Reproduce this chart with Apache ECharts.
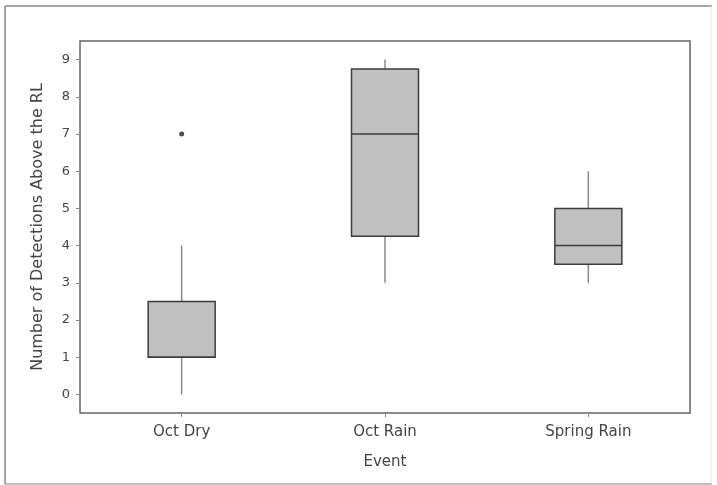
<!DOCTYPE html>
<html>
<head>
<meta charset="utf-8">
<script src="https://cdn.jsdelivr.net/npm/echarts@6/dist/echarts.min.js"></script>
<style>
  html, body { margin: 0; padding: 0; background: #fff; }
  #chart { width: 717px; height: 485px; }
</style>
</head>
<body>
<div id="chart"></div>
<script>
// box plot of detections per event
const categories = ['Oct Dry', 'Oct Rain', 'Spring Rain']
// [low whisker, Q1, median, Q3, high whisker]
const boxValues = [
  [0, 1, 1, 2.5, 4],
  [3, 4.25, 7, 8.75, 9],
  [3, 3.5, 4, 5, 6],
]
// outliers as [category index, value]
const outliers = [[0, 7]]
const yTicks = [0, 1, 2, 3, 4, 5, 6, 7, 8, 9]

const chart = echarts.init(document.getElementById('chart'), null, { renderer: 'canvas' })

const textColor = '#444'
const font = 'DejaVu Sans, Verdana, sans-serif'
const boxW = 67

// whiskers without caps, like the original plot
function renderBox(params, api) {
  const x = api.value(0)
  const pLow = api.coord([x, api.value(1)])
  const pQ1 = api.coord([x, api.value(2)])
  const pMed = api.coord([x, api.value(3)])
  const pQ3 = api.coord([x, api.value(4)])
  const pHigh = api.coord([x, api.value(5)])
  const cx = pQ1[0]
  const half = boxW / 2
  return {
    type: 'group',
    children: [
      { type: 'line', shape: { x1: cx, y1: pQ1[1], x2: cx, y2: pLow[1] }, style: { stroke: '#8a8a8a', lineWidth: 1.5 } },
      { type: 'line', shape: { x1: cx, y1: pQ3[1], x2: cx, y2: pHigh[1] }, style: { stroke: '#8a8a8a', lineWidth: 1.5 } },
      {
        type: 'rect',
        shape: { x: cx - half, y: pQ3[1], width: boxW, height: pQ1[1] - pQ3[1] },
        style: { fill: '#c0c0c0', stroke: '#3c3c3c', lineWidth: 1.5 },
      },
      { type: 'line', shape: { x1: cx - half, y1: pMed[1], x2: cx + half, y2: pMed[1] }, style: { stroke: '#3c3c3c', lineWidth: 1.5 } },
    ],
  }
}

chart.setOption({
  animation: false,
  grid: { left: 80, right: 27, top: 41, bottom: 72, show: true, borderColor: '#666', borderWidth: 1.5 },
  xAxis: {
    type: 'category',
    data: categories,
    boundaryGap: true,
    name: 'Event',
    nameLocation: 'middle',
    nameGap: 42,
    nameTextStyle: { color: textColor, fontSize: 15, fontFamily: font },
    axisLine: { show: false, onZero: false },
    axisTick: { show: true, alignWithLabel: true, length: 4, lineStyle: { color: '#888' } },
    axisLabel: { color: textColor, fontSize: 15, fontFamily: font, margin: 12 },
    splitLine: { show: false },
  },
  yAxis: {
    type: 'value',
    min: -0.5,
    max: 9.5,
    name: 'Number of Detections Above the RL',
    nameLocation: 'middle',
    nameGap: 34,
    nameTextStyle: { color: textColor, fontSize: 16, fontFamily: font },
    axisLine: { show: false, onZero: false },
    axisTick: { show: true, length: 4, lineStyle: { color: '#888' }, customValues: yTicks },
    axisLabel: { color: textColor, fontSize: 13, fontFamily: font, margin: 10, customValues: yTicks },
    splitLine: { show: false },
  },
  series: [
    {
      type: 'custom',
      renderItem: renderBox,
      encode: { x: 0, y: [1, 2, 3, 4, 5] },
      data: boxValues.map((v, i) => [i].concat(v)),
    },
    {
      type: 'scatter',
      data: outliers,
      symbol: 'circle',
      symbolSize: 5,
      itemStyle: { color: '#222' },
    },
  ],
  graphic: [
    { type: 'line', shape: { x1: 5, y1: 6, x2: 712, y2: 6 }, style: { stroke: '#888', lineWidth: 1.5 } },
    { type: 'line', shape: { x1: 5, y1: 6, x2: 5, y2: 484 }, style: { stroke: '#888', lineWidth: 1.5 } },
    { type: 'line', shape: { x1: 5, y1: 484, x2: 712, y2: 484 }, style: { stroke: '#aaa', lineWidth: 1.5 } },
    { type: 'line', shape: { x1: 711, y1: 6, x2: 711, y2: 484 }, style: { stroke: '#e4e4e4', lineWidth: 1 } },
  ],
})
</script>
</body>
</html>
